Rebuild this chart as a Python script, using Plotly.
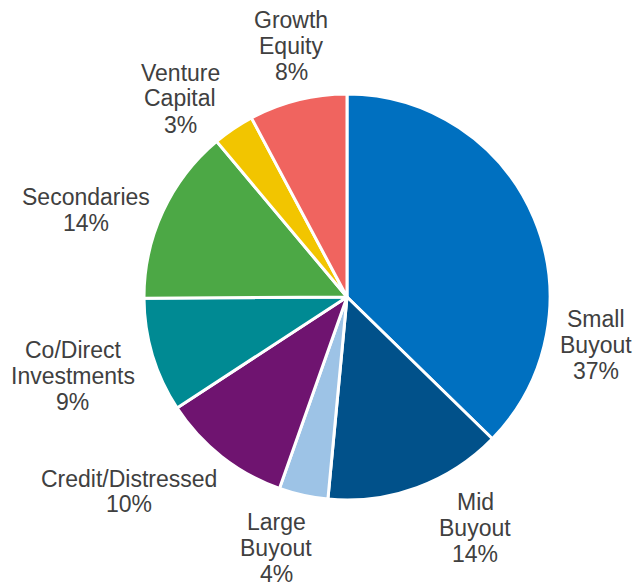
import plotly.graph_objects as go

# ---- data ----
labels = ["Small<br>Buyout", "Mid<br>Buyout", "Large<br>Buyout", "Credit/Distressed",
          "Co/Direct<br>Investments", "Secondaries", "Venture<br>Capital", "Growth<br>Equity"]
values = [37.3, 14.2, 3.9, 10.4, 9.1, 14.0, 3.3, 7.8]

# ---- style / layout ----
colors = ["#0070C0", "#01518A", "#9DC3E6", "#6F1470", "#008A93", "#4CA845", "#F2C500", "#F0645F"]
# pixel position (x centre, first-line cap centre) of each label block
label_pos = [(595.5, 318.5), (475, 501.5), (276, 521.5), (128.5, 478),
             (72.5, 349.5), (86, 196.5), (180, 72), (291, 19.5)]
W, H = 637, 587
LINE_GAP = 26.0
CAP_OFFSET = 0.5  # shift between cap centre and annotation box centre
FONT = dict(family="Liberation Sans, Arial, sans-serif", size=23, color="#404040")

fig = go.Figure(go.Pie(
    labels=labels, values=values, sort=False, direction="clockwise", rotation=0,
    marker=dict(colors=colors, line=dict(color="white", width=3)),
    textinfo="none",
    domain=dict(x=[(347 - 203) / W, (347 + 203) / W], y=[87 / H, 493 / H]),
    showlegend=False, hoverinfo="label+percent",
))

total = sum(values)
annotations = []
for lab, v, (px, py) in zip(labels, values, label_pos):
    lines = lab.split("<br>") + [f"{round(100 * v / total):.0f}%"]
    for i, line in enumerate(lines):
        y = py + i * LINE_GAP + CAP_OFFSET
        annotations.append(dict(
            text=line, x=px / W, y=1 - y / H, xref="paper", yref="paper",
            xanchor="center", yanchor="middle", showarrow=False, font=FONT,
        ))

fig.update_layout(width=W, height=H, margin=dict(l=0, r=0, t=0, b=0),
                  paper_bgcolor="white", plot_bgcolor="white",
                  annotations=annotations)
fig.write_html("out.html")
